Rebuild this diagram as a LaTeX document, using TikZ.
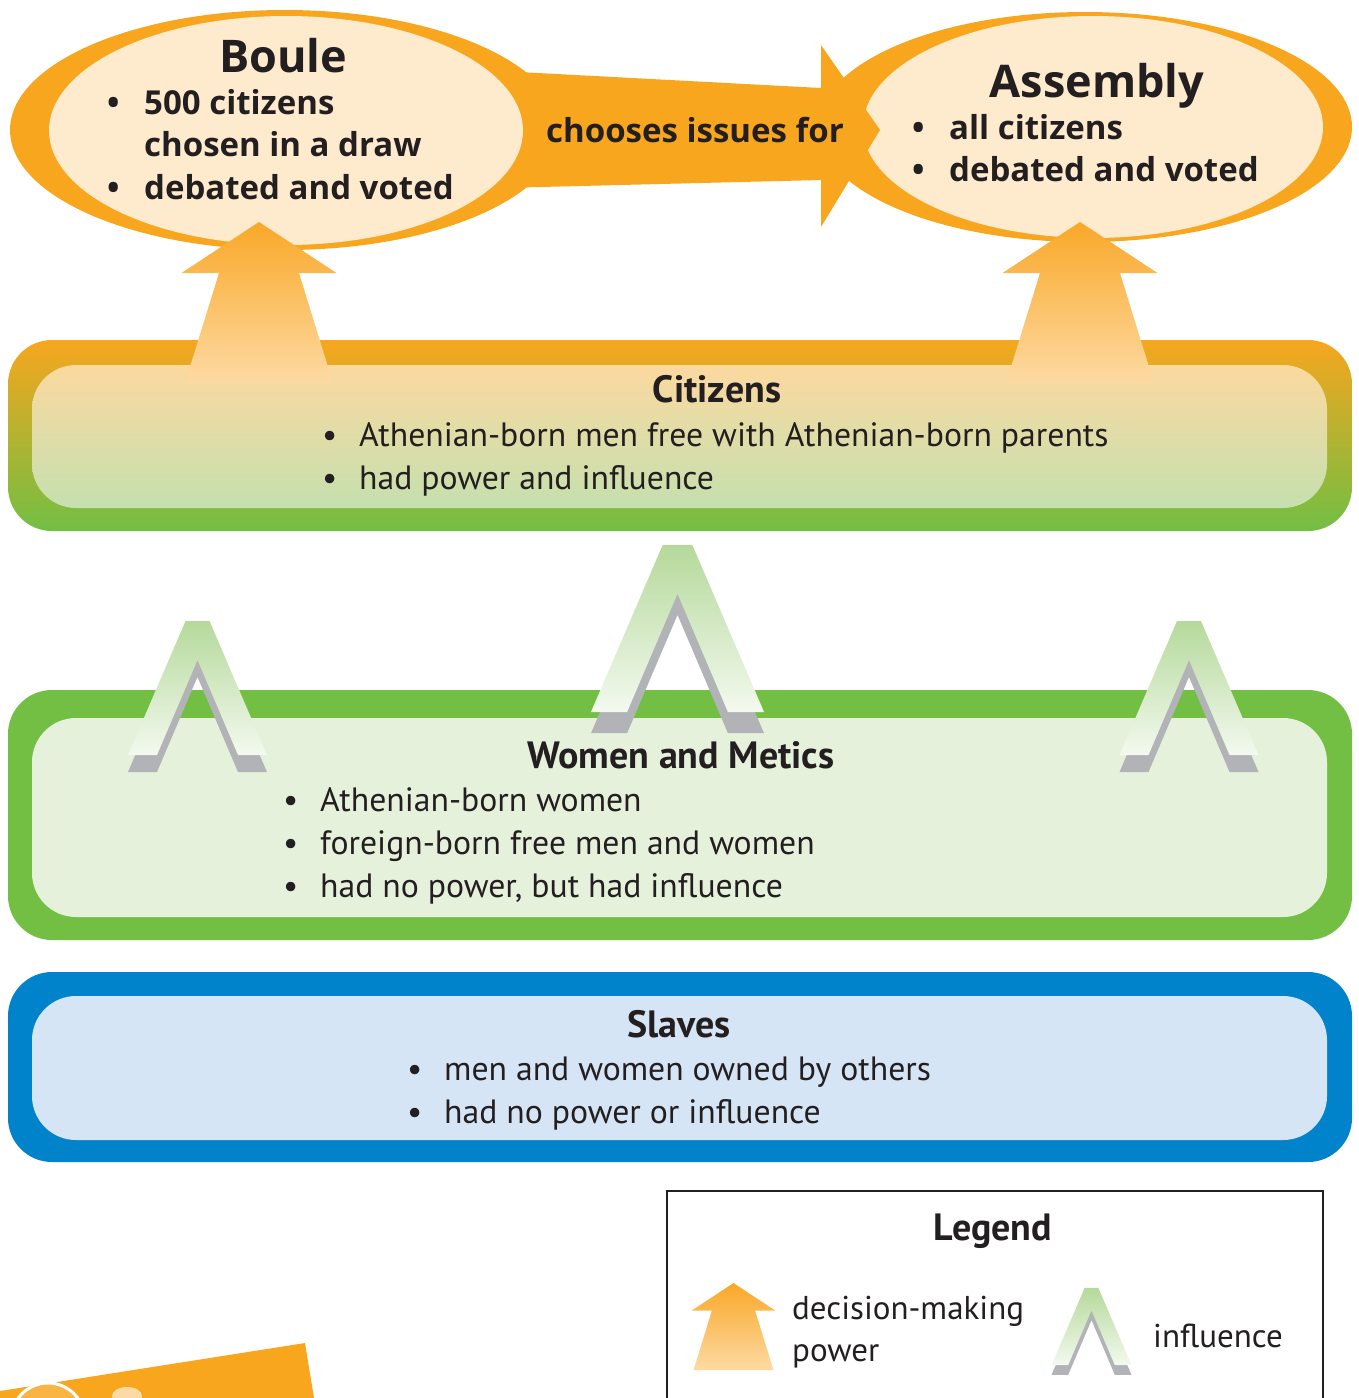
\documentclass[tikz,border=0pt]{standalone}
\usepackage{fontspec}
\setmainfont{PT Sans}
\newfontfamily\ovalfont{Open Sans}
\usetikzlibrary{shapes.geometric}

\definecolor{orangeC}{HTML}{F7A61E}
\definecolor{lightOrangeC}{HTML}{FAB443}
\definecolor{creamC}{HTML}{FEEACD}
\definecolor{greenC}{HTML}{72BF44}
\definecolor{paleGreenC}{HTML}{E6F1DC}
\definecolor{blueC}{HTML}{0083CA}
\definecolor{paleBlueC}{HTML}{D5E5F5}
\definecolor{shadowC}{HTML}{B2B3B7}
\definecolor{inkC}{HTML}{231F20}
\definecolor{citTopC}{HTML}{FBD99F}
\definecolor{citBotC}{HTML}{C5E0AF}
\definecolor{arrowTopC}{HTML}{F9A828}
\definecolor{arrowBotC}{HTML}{FDDAA3}
\definecolor{chevTopC}{HTML}{B5D99B}
\definecolor{chevBotC}{HTML}{F3F9EF}

\newcommand{\bull}{\makebox[37pt][l]{\textbullet}}
\newcommand{\nobull}{\hspace*{37pt}}
\newcommand{\blist}[1]{\begin{tabular}[t]{@{}l@{}}#1\end{tabular}}

\tikzset{
  power/.pic={
    \shade[top color=arrowTopC, bottom color=arrowBotC]
      (-74,0) -- (-40,-110) -- (-77.5,-110) -- (0,-161) -- (77.5,-110) -- (40,-110) -- (74,0) -- cycle;
  },
  influence/.pic={
    \fill[shadowC]
      (-69.5,17) -- (-12,-117) -- (12,-117) -- (69.5,17) -- (40.5,17) -- (0,-78) -- (-40.5,17) -- cycle;
    \shade[top color=chevTopC, bottom color=chevBotC]
      (-69.5,0) -- (-12,-134) -- (12,-134) -- (69.5,0) -- (40.5,0) -- (0,-95) -- (-40.5,0) -- cycle;
  }
}

\begin{document}
\begin{tikzpicture}[x=1pt, y=-1pt,
    outer box/.style={rectangle, rounded corners=44pt, minimum width=1344pt, inner sep=0pt},
    inner box/.style={rectangle, rounded corners=44pt, minimum width=1295pt, inner sep=0pt},
    box title/.style={font=\bfseries\fontsize{38}{43}\selectfont, text=inkC, inner sep=0pt, anchor=base},
    oval title/.style={box title, font=\ovalfont\bfseries\fontsize{45}{50}\selectfont},
    box text/.style={font=\fontsize{33.7}{43}\selectfont, text=inkC, inner sep=0pt, anchor=base west},
    legend text/.style={box text, font=\fontsize{33}{42}\selectfont},
    oval text/.style={box text, font=\ovalfont\bfseries\fontsize{33}{42.5}\selectfont}]

    \useasboundingbox (0,0) rectangle (1359,1398);
    \clip (0,0) rectangle (1359,1398);

    % Social classes
    \node[outer box, minimum height=191pt, top color=orangeC, bottom color=greenC] (citizens) at (680,435.5) {};
    \node[inner box, minimum height=143pt, top color=citTopC, bottom color=citBotC] (citizens in) at (679.5,436.5) {};
    \node[outer box, minimum height=250pt, fill=greenC] (women) at (680,815) {};
    \node[inner box, minimum height=199pt, fill=paleGreenC] (women in) at (679.5,817.5) {};
    \node[outer box, minimum height=190pt, fill=blueC] (slaves) at (680,1067) {};
    \node[inner box, minimum height=144pt, fill=paleBlueC] (slaves in) at (679.5,1068) {};

    % Boule and Assembly with the arrow between them
    \fill[orangeC] (500,71) -- (821,88) -- (821,180) -- (500,188) -- cycle;
    \fill[orangeC] (285,130) ellipse [x radius=275pt, y radius=120pt];
    \node[ellipse, fill=creamC, minimum width=474pt, minimum height=229pt, inner sep=0pt] (boule) at (286,130.5) {};
    \fill[orangeC] (1085,127) ellipse [x radius=267pt, y radius=115pt];
    \node[ellipse, fill=creamC, minimum width=460pt, minimum height=222pt, inner sep=0pt] (assembly) at (1093,127) {};
    \fill[orangeC] (821,45) -- (880,130) -- (821,227) -- cycle;

    % Decision-making power
    \pic at (259,383) {power};
    \pic at (1080,383) {power};

    % Influence
    \pic at (197.5,755) {influence};
    \pic[scale=1.245] at (677.5,712) {influence};
    \pic at (1189,755) {influence};

    % Texts
    \node[oval title] (boule title) at (283,72) {Boule};
    \node[oval text] (boule list) at (107,114) {\blist{\bull 500 citizens\\ \nobull chosen in a draw\\ \bull debated and voted}};
    \node[oval text, anchor=base] (chooses) at (695,142) {chooses issues for};
    \node[oval title] (assembly title) at (1097,97) {Assembly};
    \node[oval text] (assembly list) at (912,139) {\blist{\bull all citizens\\ \bull debated and voted}};

    \node[box title] (citizens title) at (717,402) {Citizens};
    \node[box text] (citizens list) at (322,446) {\blist{\bull Athenian-born men free with Athenian-born parents\\ \bull had power and influence}};
    \node[box title] (women title) at (681,768) {Women and Metics};
    \node[box text] (women list) at (283,811) {\blist{\bull Athenian-born women\\ \bull foreign-born free men and women\\ \bull had no power, but had influence}};
    \node[box title] (slaves title) at (679,1037) {Slaves};
    \node[box text] (slaves list) at (407,1080) {\blist{\bull men and women owned by others\\ \bull had no power or influence}};

    % Corner decoration
    \fill[orangeC] (0,1391) -- (305,1343) -- (314,1398) -- (0,1398) -- cycle;
    \filldraw[fill=lightOrangeC, draw=white, line width=3pt] (48,1420) circle [radius=37pt];
    \fill[arrowBotC] (127,1396) ellipse [x radius=15pt, y radius=9pt];

    % Legend
    \draw[inkC, line width=2.5pt] (667,1191) rectangle (1323,1420);
    \node[box title] (legend) at (993,1240) {Legend};
    \pic[scale=0.54] at (733.5,1370) {power};
    \node[legend text] (power label) at (792,1319) {\blist{decision-making\\ power}};
    \pic[scale=0.575] at (1091.5,1365) {influence};
    \node[legend text] (influence label) at (1153,1347) {influence};

\end{tikzpicture}
\end{document}
